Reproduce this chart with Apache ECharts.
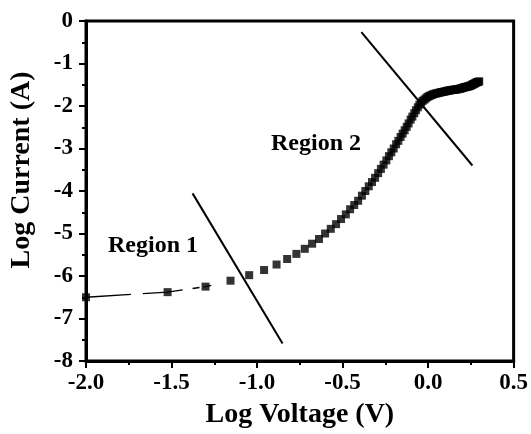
<!DOCTYPE html>
<html>
<head>
<meta charset="utf-8">
<script src="https://cdn.jsdelivr.net/npm/echarts@6/dist/echarts.min.js"></script>
<style>
  html, body { margin: 0; padding: 0; background: #fff; }
  #chart { width: 531px; height: 434px; }
</style>
</head>
<body>
<div id="chart"></div>
<script>
// Log-log I-V curve: log10 of voltage vs log10 of current
const logVoltage = [
  -2.000, -1.523, -1.301, -1.155, -1.046, -0.959, -0.886, -0.824, -0.770, -0.721,
  -0.678, -0.638, -0.602, -0.569, -0.538, -0.509, -0.481, -0.456, -0.432, -0.409,
  -0.387, -0.367, -0.347, -0.328, -0.310, -0.292, -0.276, -0.260, -0.244, -0.229,
  -0.215, -0.201, -0.187, -0.174, -0.161, -0.149, -0.137, -0.125, -0.114, -0.102,
  -0.092, -0.081, -0.071, -0.060, -0.051, -0.041, -0.032, -0.022, -0.013, -0.004,
  0.004, 0.013, 0.021, 0.029, 0.037, 0.045, 0.053, 0.061, 0.068, 0.076,
  0.083, 0.090, 0.097, 0.104, 0.111, 0.117, 0.124, 0.130, 0.137, 0.143,
  0.149, 0.155, 0.161, 0.167, 0.173, 0.179, 0.185, 0.190, 0.196, 0.201,
  0.207, 0.212, 0.217, 0.223, 0.228, 0.233, 0.238, 0.243, 0.248, 0.253,
  0.258, 0.262, 0.267, 0.272, 0.276, 0.281, 0.286, 0.290, 0.294, 0.299
];
const logCurrent = [
  -6.50, -6.38, -6.25, -6.11, -5.98, -5.86, -5.73, -5.60, -5.48, -5.36,
  -5.24, -5.13, -5.00, -4.89, -4.78, -4.66, -4.55, -4.43, -4.33, -4.23,
  -4.11, -4.00, -3.89, -3.79, -3.69, -3.58, -3.48, -3.38, -3.28, -3.18,
  -3.09, -3.00, -2.90, -2.82, -2.73, -2.65, -2.57, -2.49, -2.41, -2.32,
  -2.25, -2.17, -2.10, -2.03, -1.97, -1.92, -1.88, -1.85, -1.82, -1.79,
  -1.77, -1.755, -1.74, -1.725, -1.715, -1.705, -1.70, -1.69, -1.685, -1.675,
  -1.67, -1.665, -1.66, -1.65, -1.645, -1.64, -1.635, -1.63, -1.625, -1.62,
  -1.62, -1.615, -1.61, -1.61, -1.605, -1.60, -1.595, -1.59, -1.58, -1.575,
  -1.565, -1.56, -1.555, -1.55, -1.545, -1.54, -1.535, -1.53, -1.52, -1.51,
  -1.50, -1.49, -1.48, -1.47, -1.46, -1.45, -1.44, -1.435, -1.43, -1.42
];

// Straight guide lines separating the conduction regions
const region1LineX = [-1.377, -0.851];
const region1LineY = [-4.056, -7.59];
const region2LineX = [-0.390, 0.259];
const region2LineY = [-0.264, -3.40];

// Tick labels
const xTickValues = [-2.0, -1.5, -1.0, -0.5, 0.0, 0.5];
const xTickLabels = ['-2.0', '-1.5', '-1.0', '-0.5', '0.0', '0.5'];
const yTickValues = [0, -1, -2, -3, -4, -5, -6, -7, -8];
const yTickLabels = ['0', '-1', '-2', '-3', '-4', '-5', '-6', '-7', '-8'];

const FONT = "'Liberation Serif', 'Times New Roman', serif";

function pairs(xs, ys) { return xs.map((x, i) => [x, ys[i]]); }
function labelFor(values, labels) {
  return v => {
    const i = values.findIndex(t => Math.abs(t - v) < 1e-6);
    return i >= 0 ? labels[i] : '';
  };
}

const points = pairs(logVoltage, logCurrent);

const chart = echarts.init(document.getElementById('chart'), null, { renderer: 'canvas' });
chart.setOption({
  animation: false,
  backgroundColor: '#fff',
  grid: {
    left: 86, top: 21, right: 17, bottom: 70,
    show: true, borderColor: '#000', borderWidth: 3, backgroundColor: 'transparent'
  },
  xAxis: {
    type: 'value', min: -2, max: 0.5, interval: 0.5,
    name: 'Log Voltage (V)', nameLocation: 'middle', nameGap: 40,
    nameTextStyle: { fontFamily: FONT, fontWeight: 'bold', fontSize: 28, color: '#000' },
    axisLine: { show: true, onZero: false, lineStyle: { color: '#000', width: 3 } },
    axisTick: { show: true, inside: false, length: 7, lineStyle: { color: '#000', width: 2 } },
    minorTick: { show: true, splitNumber: 2, length: 4, lineStyle: { color: '#000', width: 2 } },
    splitLine: { show: false },
    axisLabel: {
      margin: 11, fontFamily: FONT, fontWeight: 'bold', fontSize: 23, color: '#000',
      formatter: labelFor(xTickValues, xTickLabels)
    }
  },
  yAxis: {
    type: 'value', min: -8, max: 0, interval: 1,
    name: 'Log Current (A)', nameLocation: 'middle', nameGap: 50,
    nameTextStyle: {
      fontFamily: FONT, fontWeight: 'bold', fontSize: 28, color: '#000',
      padding: [0, 0, 0, 42]
    },
    axisLine: { show: true, onZero: false, lineStyle: { color: '#000', width: 3 } },
    axisTick: { show: true, inside: false, length: 7, lineStyle: { color: '#000', width: 2 } },
    minorTick: { show: true, splitNumber: 2, length: 4, lineStyle: { color: '#000', width: 2 } },
    splitLine: { show: false },
    axisLabel: {
      margin: 13, fontFamily: FONT, fontWeight: 'bold', fontSize: 23, color: '#000',
      formatter: labelFor(yTickValues, yTickLabels)
    }
  },
  series: [
    {
      // thin broken connector through the low-voltage points
      type: 'line', data: points.slice(0, 4), showSymbol: false, silent: true,
      lineStyle: { color: '#000', width: 1.3, type: [45, 12, 40, 10, 7, 4, 8, 60] },
      z: 2
    },
    {
      type: 'scatter', data: points, symbol: 'rect', symbolSize: 8,
      itemStyle: { color: '#000' }, silent: true, z: 3
    },
    {
      type: 'line', data: pairs(region1LineX, region1LineY), showSymbol: false, silent: true,
      lineStyle: { color: '#000', width: 2 }, z: 4
    },
    {
      type: 'line', data: pairs(region2LineX, region2LineY), showSymbol: false, silent: true,
      lineStyle: { color: '#000', width: 2 }, z: 4
    }
  ],
  graphic: [
    {
      type: 'text', x: 153, y: 246,
      style: { text: 'Region 1', font: "bold 24px " + FONT, fill: '#000', align: 'center', verticalAlign: 'middle' }
    },
    {
      type: 'text', x: 316, y: 144,
      style: { text: 'Region 2', font: "bold 24px " + FONT, fill: '#000', align: 'center', verticalAlign: 'middle' }
    }
  ]
});
</script>
</body>
</html>
